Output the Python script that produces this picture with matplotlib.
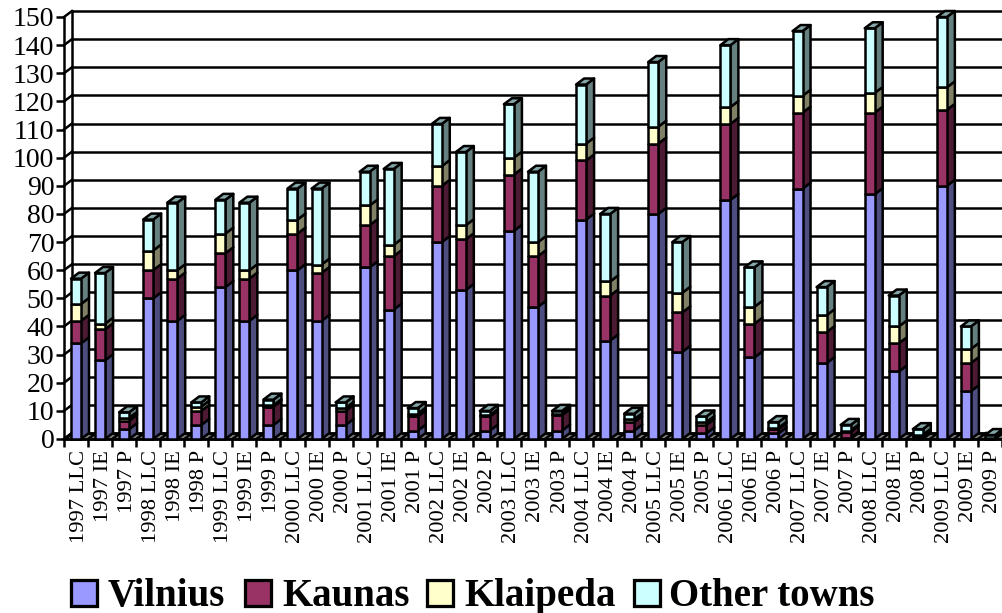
import matplotlib
matplotlib.use("Agg")
import matplotlib.pyplot as plt
from matplotlib.patches import Polygon, Rectangle
from matplotlib.colors import to_rgb
from matplotlib.transforms import ScaledTranslation

plt.rcParams['font.family'] = ['Liberation Serif', 'DejaVu Serif']

years = [str(y) for y in range(1997, 2010)]
forms = ["LLC", "IE", "P"]
labels = [f"{y} {f}" for y in years for f in forms]

vilnius = [34, 28, 3.5, 50, 42, 5, 54, 42, 5, 60, 42, 5, 61, 46, 3, 70, 53, 3, 74, 47, 3,
           78, 35, 3, 80, 31, 2, 85, 29, 2, 89, 27, 0.5, 87, 24, 0.5, 90, 17, 0.1]
kaunas = [8, 11, 3, 10, 15, 5, 12, 15, 6.5, 13, 17, 5, 15, 19, 5, 20, 18, 5, 20, 18, 5.5,
          21, 16, 3, 25, 14, 3, 27, 12, 1.5, 27, 11, 2, 29, 10, 0.5, 27, 10, 0.2]
klaipeda = [6, 2, 1, 7, 3, 1.5, 7, 3, 0.5, 5, 3, 1, 7, 4, 1, 7, 5, 0.5, 6, 5, 0.5,
            6, 5, 1, 6, 7, 1, 6, 6, 0.5, 6, 6, 0.5, 7, 6, 0.5, 8, 5, 0.1]
other = [9, 18, 2, 11, 24, 1.5, 12, 24, 2, 11, 27, 2, 12, 27, 2, 15, 26, 1.5, 19, 25, 1,
         21, 24, 2, 23, 18, 2, 22, 14, 2, 23, 10, 2, 23, 11, 2, 25, 8, 1]

series = [("Vilnius", vilnius, "#9999FF"),
          ("Kaunas", kaunas, "#993366"),
          ("Klaipeda", klaipeda, "#FFFFCC"),
          ("Other towns", other, "#CCFFFF")]

W, H = 1003, 613
LW = 1.8
fig = plt.figure(figsize=(W / 100, H / 100), dpi=100)

# plot area in pixels: x 64..1002, y 17..439
ax = fig.add_axes([64 / W, 1 - 439 / H, 938 / W, 422 / H])
ax.set_xlim(0, 39)
ax.set_ylim(0, 150)

# depth of the 3d look, in data units
dx = 8 / (938 / 39)
dy = 6 / (422 / 150)
end = 39.1


def shade(c, f):
    return tuple(v * f for v in to_rgb(c))


def poly(pts, color, z):
    ax.add_patch(Polygon(pts, closed=True, facecolor=color, edgecolor="black",
                         linewidth=LW, zorder=z, clip_on=False, joinstyle="round"))


# floor and back wall
poly([(0, 0), (end, 0), (end, dy), (dx, dy)], "#808080", 1)
for v in range(0, 151, 10):
    ax.plot([dx, end], [v + dy, v + dy], color="black", lw=LW, zorder=1.5, clip_on=False)
    ax.plot([0, dx], [v, v + dy], color="black", lw=LW, zorder=1.5, clip_on=False)
ax.plot([dx, dx], [dy, 150 + dy], color="black", lw=LW, zorder=1.5, clip_on=False)
for i in range(40):
    ax.plot([i, i + dx], [0, dy], color="black", lw=LW, zorder=1.5, clip_on=False)

# stacked bars with side and top faces
bar_left = 7 / (938 / 39)
bar_w = 10 / (938 / 39)
z = 2
for i in range(len(labels)):
    x0 = i + bar_left
    x1 = x0 + bar_w
    base = 0
    for name, vals, col in series:
        top = base + vals[i]
        poly([(x1, base), (x1 + dx, base + dy), (x1 + dx, top + dy), (x1, top)], shade(col, 0.5), z)
        poly([(x0, base), (x1, base), (x1, top), (x0, top)], col, z + 0.1)
        base = top
        z += 0.2
    poly([(x0, base), (x1, base), (x1 + dx, base + dy), (x0 + dx, base + dy)], shade("#CCFFFF", 0.65), z)
    z += 0.2

for s in ["top", "right"]:
    ax.spines[s].set_visible(False)
for s in ["left", "bottom"]:
    ax.spines[s].set_linewidth(LW)
    ax.spines[s].set_zorder(1.8)

ax.set_yticks(range(0, 151, 10))
ax.tick_params(axis="y", length=6, width=LW, labelsize=20, pad=1)
ax.set_xticks(range(40))
ax.set_xticklabels([])
ax.tick_params(axis="x", which="major", length=6, width=LW)
ax.set_xticks([i + 0.5 for i in range(39)], minor=True)
ax.set_xticklabels(labels, minor=True, rotation=90, fontsize=16.2, va="top", ha="center")
ax.tick_params(axis="x", which="minor", length=0, pad=8)

# nudge the rotated labels to the right
nudge = ScaledTranslation(3 / 100, 0, fig.dpi_scale_trans)
for t in ax.get_xticklabels(minor=True):
    t.set_transform(t.get_transform() + nudge)

# legend row drawn in figure pixels
swatches = [71, 245, 427, 634]
gaps = [37, 37, 37, 35]
for (name, vals, col), sx, gap in zip(series, swatches, gaps):
    fig.add_artist(Rectangle((sx / W, 1 - 606 / H), 26 / W, 26 / H, transform=fig.transFigure,
                             facecolor=col, edgecolor="black", linewidth=LW * 1.3))
    fig.text((sx + gap) / W, 1 - 606 / H, name, fontsize=28, fontweight="bold", va="baseline")

fig.savefig("out.png", dpi=100)
